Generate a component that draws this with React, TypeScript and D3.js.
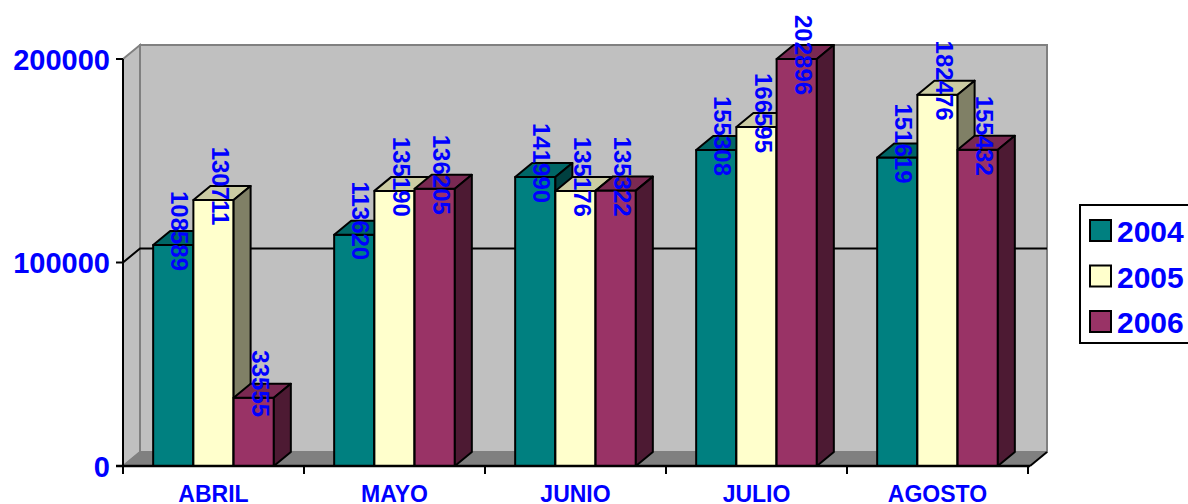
import React from 'react';
import * as d3 from 'd3';

const months = ['ABRIL', 'MAYO', 'JUNIO', 'JULIO', 'AGOSTO'];
const years = ['2004', '2005', '2006'];
const values2004 = [108589, 113620, 141990, 155308, 151619];
const values2005 = [130711, 135190, 135176, 166595, 182476];
const values2006 = [33555, 136205, 135322, 202896, 155432];
const yTicks = [0, 100000, 200000];

const seriesColors = ['#008080', '#FFFFCC', '#993366'];

const W = 1188;
const H = 504;
const FONT = '"Liberation Sans", Arial, sans-serif';
const BLUE = '#0000FF';

// 3D depth offset
const DX = 17;
const DY = -14;

const App = () => {
  const series = [values2004, values2005, values2006];

  const left = 123;
  const right = 1028;
  const bottom = 466;
  const top = 59;

  const x0 = d3.scaleBand().domain(months).range([left, right]);
  const x1 = d3.scaleBand().domain(years).range([0, x0.bandwidth()]).paddingOuter(0.75);
  const y = d3.scaleLinear().domain([0, 200000]).range([bottom, top]).clamp(true);

  const darker = (c, k) => {
    const col = d3.rgb(c);
    return d3.rgb(col.r * k, col.g * k, col.b * k).formatHex();
  };

  const pts = arr => arr.map(p => p.join(',')).join(' ');

  const bars = [];
  const labels = [];
  months.forEach((m, i) => {
    years.forEach((yr, s) => {
      const v = series[s][i];
      const bx = x0(m) + x1(yr);
      const bw = x1.bandwidth();
      const by = y(v);
      const col = seriesColors[s];
      bars.push(
        <g key={`${m}-${yr}`} stroke="#000" strokeWidth={2} strokeLinejoin="round">
          <rect x={bx} y={by} width={bw} height={bottom - by} fill={col} />
          <polygon
            points={pts([[bx, by], [bx + DX, by + DY], [bx + bw + DX, by + DY], [bx + bw, by]])}
            fill={darker(col, 0.8)}
          />
          <polygon
            points={pts([[bx + bw, by], [bx + bw + DX, by + DY], [bx + bw + DX, bottom + DY], [bx + bw, bottom]])}
            fill={darker(col, 0.5)}
          />
        </g>
      );
      const txt = String(v);
      const half = (txt.length * 0.556 * 24) / 2;
      const cy = Math.max(by - 14, 15 + half);
      const lx = bx + bw / 2 - 2;
      labels.push(
        <text
          key={`l-${m}-${yr}`}
          transform={`translate(${lx},${cy}) rotate(90)`}
          textAnchor="middle"
          fontFamily={FONT}
          fontWeight="bold"
          fontSize={24}
          fill={BLUE}
        >
          {txt}
        </text>
      );
    });
  });

  const boundaries = months.map(m => x0(m)).concat([right]);

  return (
    <svg width={W} height={H} style={{ position: 'absolute', left: 0, top: 0 }}>
      <rect width={W} height={H} fill="#fff" />
      {/* back wall */}
      <rect
        x={left + DX}
        y={top + DY}
        width={right + 2 - left}
        height={bottom - top}
        fill="#C0C0C0"
        stroke="#808080"
        strokeWidth={2}
      />
      {/* side wall */}
      <polygon
        points={pts([[left, top], [left + DX, top + DY], [left + DX, bottom + DY], [left, bottom]])}
        fill="#C0C0C0"
        stroke="#808080"
        strokeWidth={2}
      />
      {/* floor */}
      <polygon
        points={pts([[left, bottom], [left + DX, bottom + DY], [right + 2 + DX, bottom + DY], [right + 2, bottom]])}
        fill="#808080"
        stroke="#808080"
        strokeWidth={1}
      />
      <line x1={right + 2} y1={bottom} x2={right + 2 + DX} y2={bottom + DY} stroke="#000" strokeWidth={2} />
      {/* gridlines */}
      {yTicks
        .filter(t => t > 0 && t < 200000)
        .map(t => (
          <g key={`g-${t}`} stroke="#000" strokeWidth={2} fill="none">
            <polyline points={pts([[left, y(t)], [left + DX, y(t) + DY], [right + 2 + DX, y(t) + DY]])} />
          </g>
        ))}
      {bars}
      {/* y axis */}
      <line x1={left} y1={top} x2={left} y2={bottom + 1} stroke="#000" strokeWidth={2} />
      {yTicks.map(t => (
        <g key={`yt-${t}`}>
          <line x1={left - 7} y1={y(t)} x2={left} y2={y(t)} stroke="#000" strokeWidth={2} />
          <text
            x={left - 13}
            y={y(t) + 10.5}
            textAnchor="end"
            fontFamily={FONT}
            fontWeight="bold"
            fontSize={29}
            fill={BLUE}
          >
            {t}
          </text>
        </g>
      ))}
      {/* x axis */}
      <line x1={left - 7} y1={bottom} x2={right + 2} y2={bottom} stroke="#000" strokeWidth={2.5} />
      {boundaries.map((b, i) => (
        <line key={`xt-${i}`} x1={b} y1={bottom} x2={b} y2={bottom + 8} stroke="#000" strokeWidth={2} />
      ))}
      {months.map(m => (
        <text
          key={`xl-${m}`}
          x={x0(m) + x0.bandwidth() / 2}
          y={502}
          textAnchor="middle"
          fontFamily={FONT}
          fontWeight="bold"
          fontSize={23}
          fill={BLUE}
        >
          {m}
        </text>
      ))}
      {labels}
      {/* legend */}
      <rect x={1080} y={205} width={130} height={138} fill="#fff" stroke="#000" strokeWidth={2} />
      {years.map((yr, s) => (
        <g key={`lg-${yr}`}>
          <rect x={1090} y={220 + s * 45.5} width={21} height={21} fill={seriesColors[s]} stroke="#000" strokeWidth={2} />
          <text
            x={1117}
            y={231 + s * 45.5 + 11}
            fontFamily={FONT}
            fontWeight="bold"
            fontSize={30}
            fill={BLUE}
          >
            {yr}
          </text>
        </g>
      ))}
    </svg>
  );
};

export default App;
